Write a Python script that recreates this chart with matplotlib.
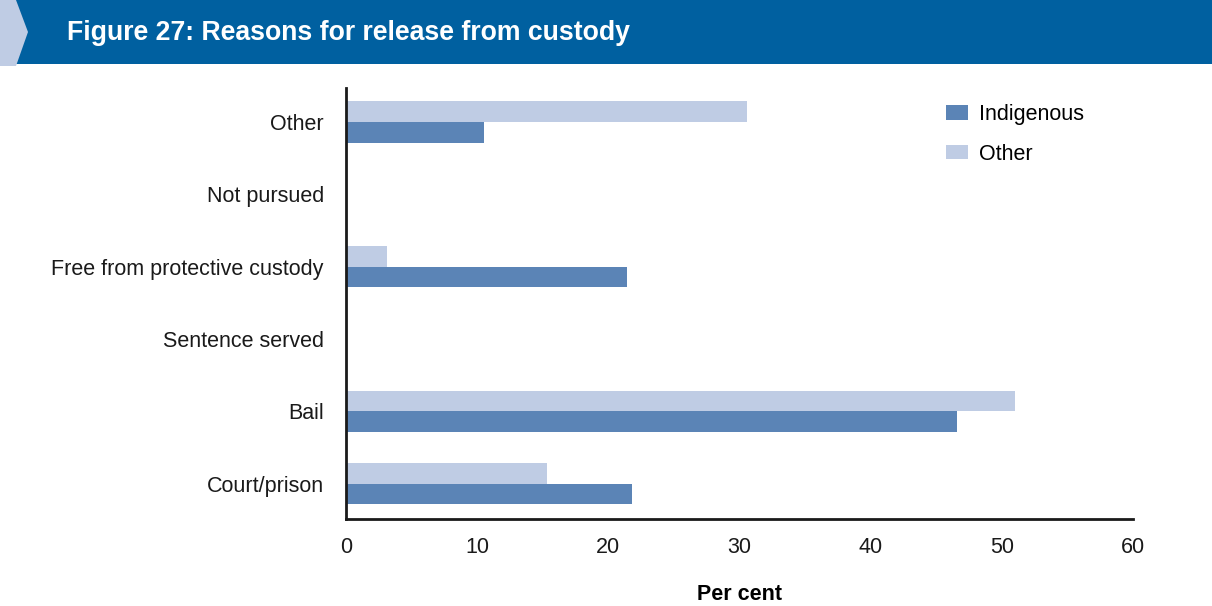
import matplotlib.pyplot as plt
from matplotlib.patches import Polygon, Rectangle
import numpy as np

plt.rcParams['font.family'] = ['Liberation Sans', 'DejaVu Sans']

# datos (de abajo hacia arriba)
categories = ["Court/prison", "Bail", "Sentence served",
              "Free from protective custody", "Not pursued", "Other"]
indigenous = [21.8, 46.6, 0, 21.4, 0, 10.5]
other = [15.3, 51.0, 0, 3.1, 0, 30.6]
x_ticks = [0, 10, 20, 30, 40, 50, 60]

dark = "#5b84b6"
light = "#bfcce4"
header = "#0060a0"

fig = plt.figure(figsize=(12.12, 6.06), dpi=100)

# barra del titulo
fig.patches.append(Rectangle((0, 1 - 64 / 606), 1, 64 / 606, transform=fig.transFigure,
                             facecolor=header, edgecolor="none", zorder=0))
fig.patches.append(Polygon([(0, 1), (16 / 1212, 1), (28 / 1212, 1 - 32 / 606),
                            (16 / 1212, 1 - 66 / 606), (0, 1 - 66 / 606)],
                           closed=True, transform=fig.transFigure,
                           facecolor=light, edgecolor="none", zorder=1))
fig.text(67 / 1212, 1 - 33 / 606, "Figure 27: Reasons for release from custody",
         color="white", fontsize=19.2, fontweight="bold", va="center", ha="left")

ax = fig.add_axes([346 / 1212, 1 - 519 / 606, (1133 - 346) / 1212, (519 - 88) / 606])

y = np.arange(len(categories))
h = 0.285
ax.barh(y - h / 2, indigenous, height=h, color=dark, label="Indigenous")
ax.barh(y + h / 2, other, height=h, color=light, label="Other")

ax.set_xlim(0, 60)
ax.set_ylim(-0.49, 5.47)
ax.set_xticks(x_ticks)
ax.set_yticks(y)
ax.set_yticklabels(categories)
ax.tick_params(length=0, labelsize=15.5, colors="#1a1a1a")
ax.tick_params(axis="x", pad=13)
ax.tick_params(axis="y", pad=16)
for s in ["top", "right"]:
    ax.spines[s].set_visible(False)
for s in ["left", "bottom"]:
    ax.spines[s].set_linewidth(2)
    ax.spines[s].set_color("#1a1a1a")

ax.set_xlabel("Per cent", fontsize=15.5, fontweight="bold", labelpad=19)

ax.legend(loc="upper left", bbox_to_anchor=((946 - 346) / 787, (519 - 104) / 431),
          frameon=False, fontsize=15.5, borderpad=0, borderaxespad=0,
          handlelength=1.0, handleheight=0.65, labelspacing=0.87, handletextpad=0.55)

plt.savefig("out.png", dpi=100)
